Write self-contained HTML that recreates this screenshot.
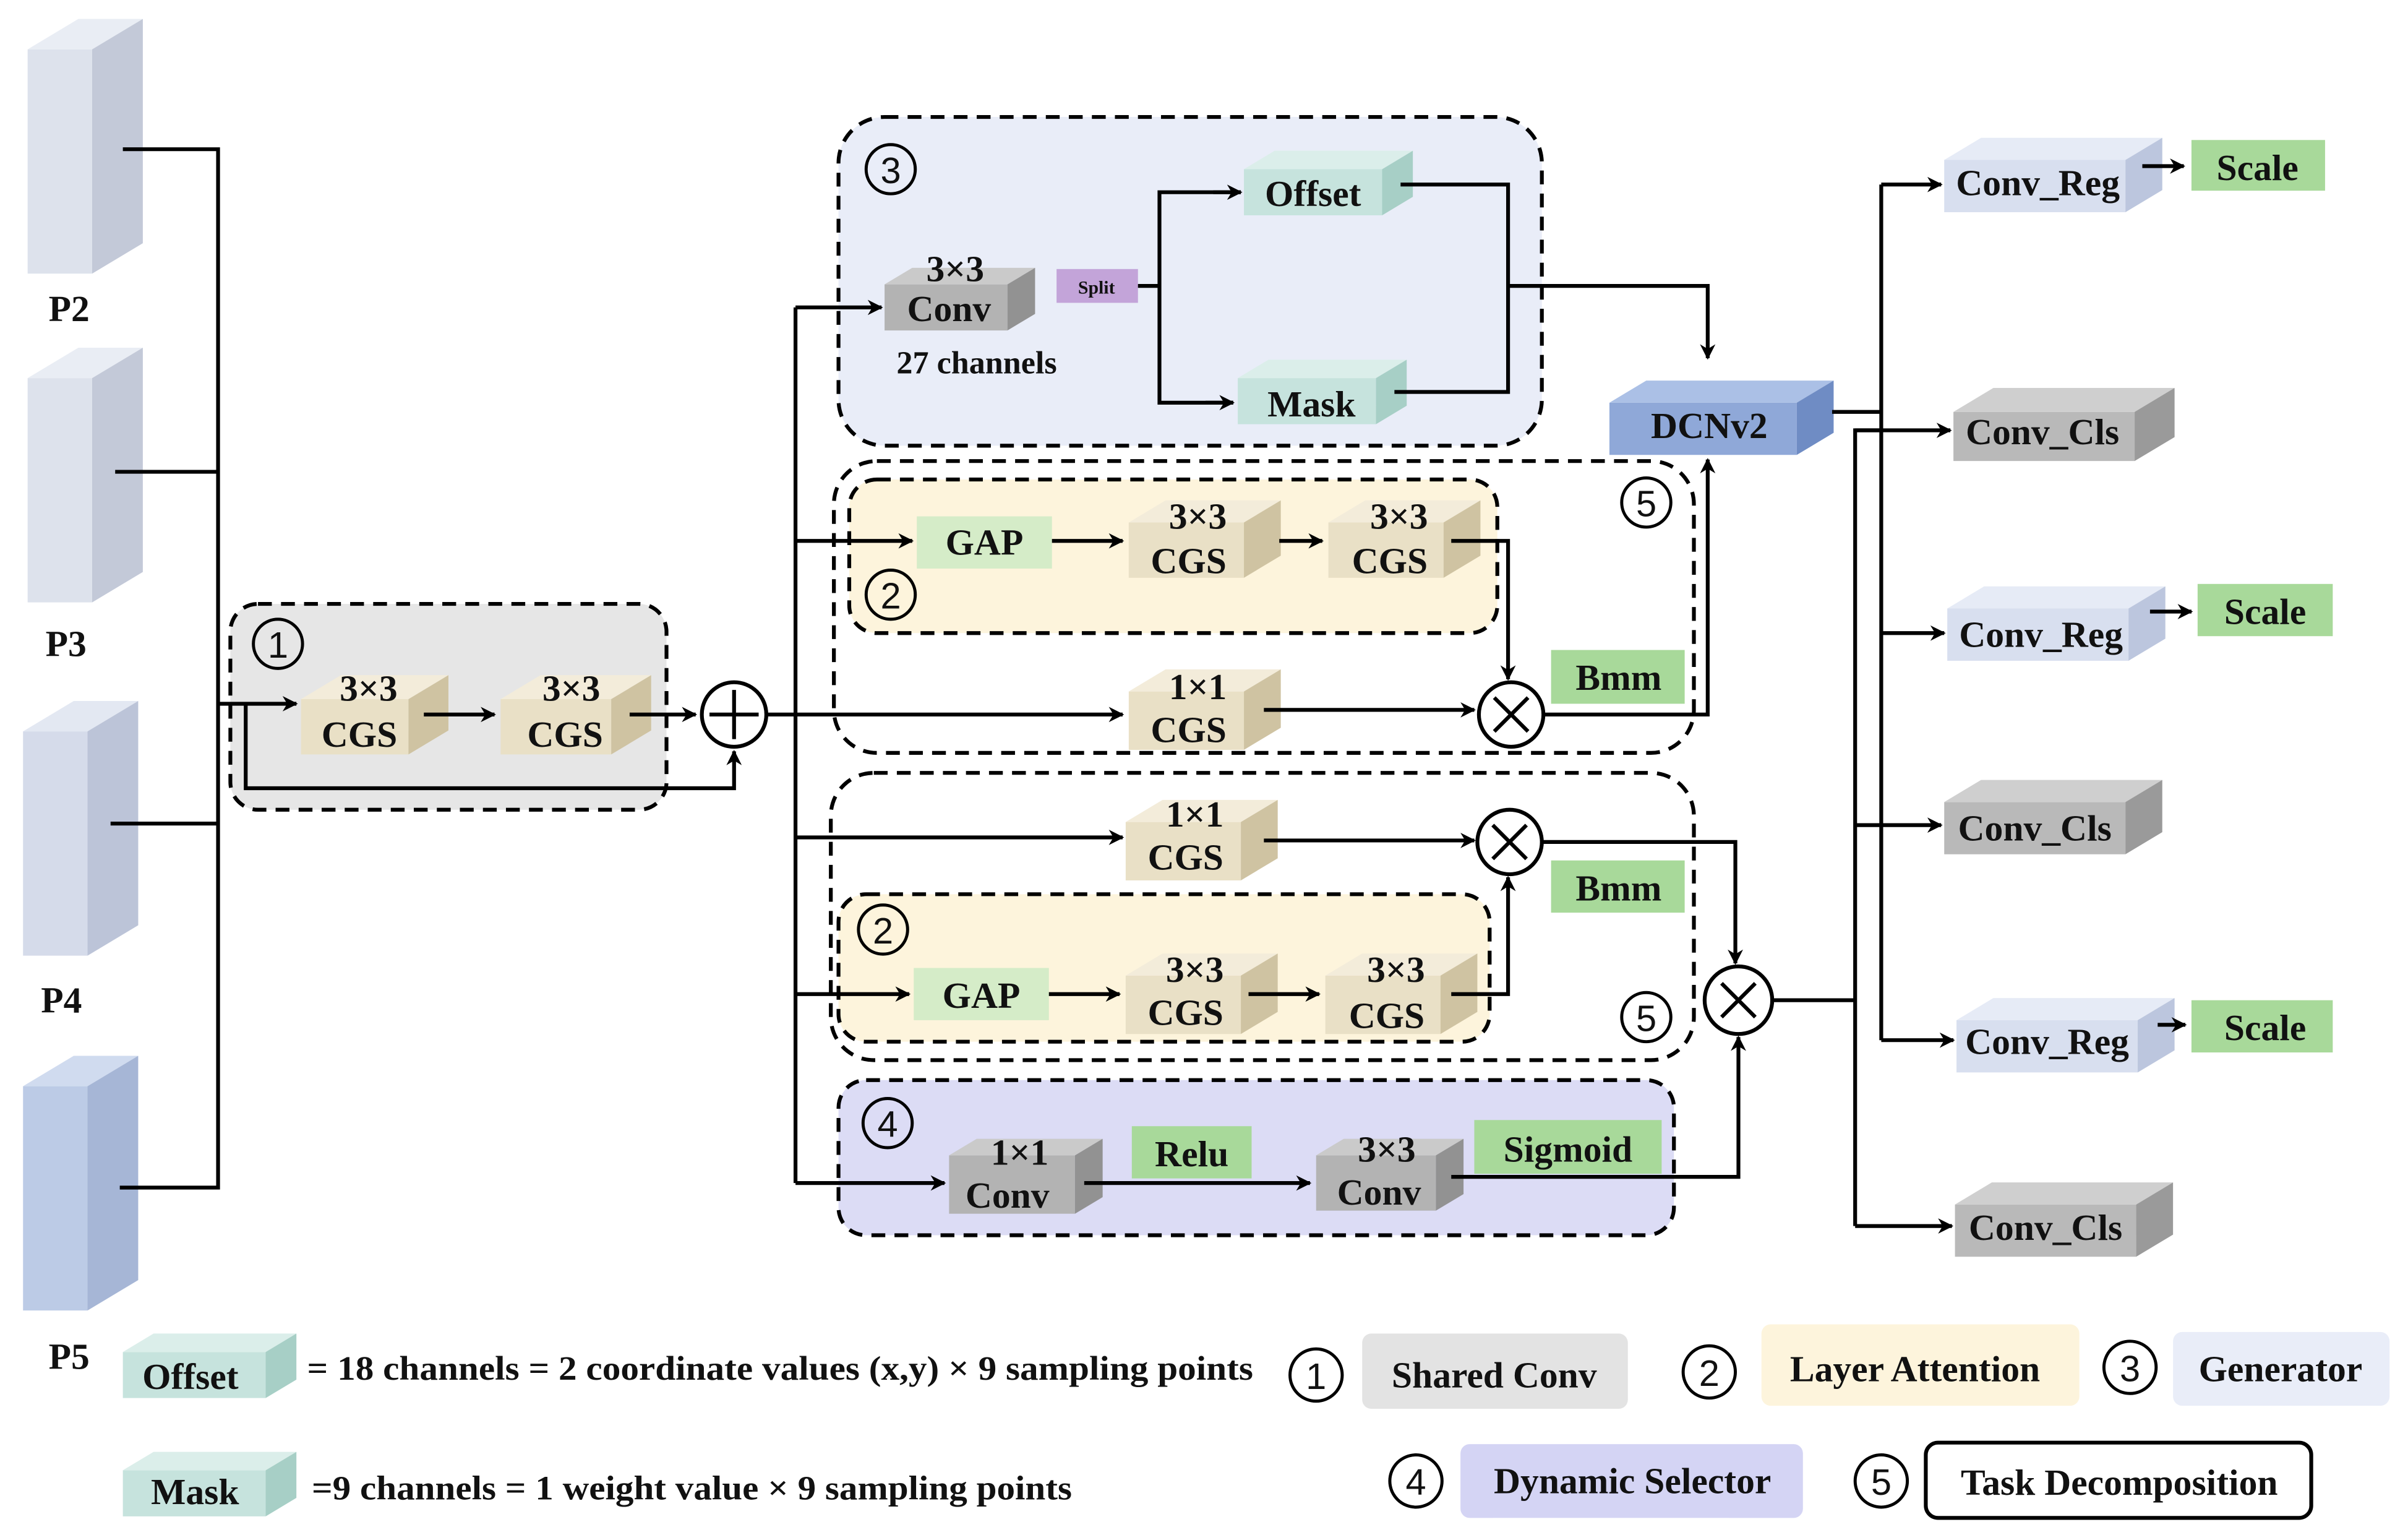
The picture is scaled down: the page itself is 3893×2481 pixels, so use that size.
<!DOCTYPE html>
<html><head><meta charset="utf-8"><style>
html,body{margin:0;padding:0;background:#fff}
svg{display:block}
text{font-family:"Liberation Serif",serif;font-weight:bold;fill:#111}
.n{font-family:"Liberation Sans",sans-serif;font-weight:normal}
</style></head><body>
<svg id="s" width="3893" height="2481" viewBox="0 0 1568 999" xmlns="http://www.w3.org/2000/svg">
<defs>
<marker id="a" markerWidth="10" markerHeight="10" refX="9" refY="5" orient="auto" markerUnits="userSpaceOnUse">
<path d="M0,0 L10,5 L0,10 L3,5 Z" fill="#000"/></marker>
</defs>
<rect x="150" y="393" width="284" height="134" rx="18" fill="#e6e6e6" stroke="#000" stroke-width="2.5" stroke-dasharray="9,6"/>
<rect x="546" y="76" width="458" height="214" rx="30" fill="#e9edf8" stroke="#000" stroke-width="2.5" stroke-dasharray="9,6"/>
<rect x="543" y="300" width="560" height="190" rx="28" fill="none" stroke="#000" stroke-width="2.5" stroke-dasharray="9,6"/>
<rect x="553" y="312" width="422" height="100" rx="18" fill="#fdf4dc" stroke="#000" stroke-width="2.5" stroke-dasharray="9,6"/>
<rect x="541" y="503" width="562" height="187" rx="28" fill="none" stroke="#000" stroke-width="2.5" stroke-dasharray="9,6"/>
<rect x="546" y="582" width="424" height="96" rx="18" fill="#fdf4dc" stroke="#000" stroke-width="2.5" stroke-dasharray="9,6"/>
<rect x="546" y="703" width="544" height="101" rx="18" fill="#dcdcf5" stroke="#000" stroke-width="2.5" stroke-dasharray="9,6"/>
<g id="boxes"></g>
<g stroke="none">
<rect x="597" y="336" width="88" height="34" fill="#d5ecc8"/>
<rect x="595" y="630" width="88" height="34" fill="#d5ecc8"/>
<rect x="1010" y="423" width="87" height="35" fill="#a8d99a"/>
<rect x="1010" y="560" width="87" height="34" fill="#a8d99a"/>
<rect x="737" y="733" width="78" height="34" fill="#a8d99a"/>
<rect x="960" y="729" width="122" height="35" fill="#a8d99a"/>
<rect x="1427" y="91" width="87" height="33" fill="#a8d99a"/>
<rect x="1431" y="380" width="88" height="34" fill="#a8d99a"/>
<rect x="1427" y="651" width="92" height="34" fill="#a8d99a"/>
<rect x="688" y="175" width="53" height="22" fill="#c3a4d9"/>
<rect x="887" y="868" width="173" height="49" rx="6" fill="#e3e3e3"/>
<rect x="1147" y="862" width="207" height="53" rx="6" fill="#fdf4dc"/>
<rect x="1415" y="867" width="141" height="48" rx="6" fill="#e9edf8"/>
<rect x="951" y="940" width="223" height="48" rx="6" fill="#d4d4f4"/>
<rect x="1254" y="939" width="251" height="49" rx="8" fill="#fff" stroke="#000" stroke-width="2.5"/>
</g>
<g fill="none" stroke="#000" stroke-width="2.5">
<polyline points="80,97 142,97 142,773 78,773"/>
<line x1="75" y1="307" x2="142" y2="307"/>
<line x1="72" y1="536" x2="142" y2="536"/>
<line x1="142" y1="458" x2="193" y2="458" marker-end="url(#a)"/>
<polyline points="160,458 160,513 478,513 478,489" marker-end="url(#a)"/>
<line x1="276" y1="465" x2="322" y2="465" marker-end="url(#a)"/>
<line x1="410" y1="465" x2="453" y2="465" marker-end="url(#a)"/>
<line x1="499" y1="465" x2="731" y2="465" marker-end="url(#a)"/>
<line x1="518" y1="200" x2="518" y2="770"/>
<line x1="518" y1="200" x2="574" y2="200" marker-end="url(#a)"/>
<line x1="518" y1="352" x2="594" y2="352" marker-end="url(#a)"/>
<line x1="518" y1="545" x2="731" y2="545" marker-end="url(#a)"/>
<line x1="518" y1="647" x2="592" y2="647" marker-end="url(#a)"/>
<line x1="518" y1="770" x2="615" y2="770" marker-end="url(#a)"/>
<line x1="741" y1="186" x2="755" y2="186"/>
<polyline points="808,125 755,125 755,262 803,262" />
<line x1="790" y1="125" x2="808" y2="125" marker-end="url(#a)"/>
<line x1="785" y1="262" x2="803" y2="262" marker-end="url(#a)"/>
<polyline points="912,120 982,120 982,255 908,255"/>
<polyline points="982,186 1112,186 1112,233" marker-end="url(#a)"/>
<line x1="685" y1="352" x2="731" y2="352" marker-end="url(#a)"/>
<line x1="833" y1="352" x2="861" y2="352" marker-end="url(#a)"/>
<polyline points="945,352 982,352 982,442" marker-end="url(#a)"/>
<line x1="823" y1="462" x2="960" y2="462" marker-end="url(#a)"/>
<polyline points="1005,465 1112,465 1112,299" marker-end="url(#a)"/>
<line x1="823" y1="547" x2="960" y2="547" marker-end="url(#a)"/>
<polyline points="1005,548 1130,548 1130,627" marker-end="url(#a)"/>
<line x1="683" y1="647" x2="729" y2="647" marker-end="url(#a)"/>
<line x1="813" y1="647" x2="859" y2="647" marker-end="url(#a)"/>
<polyline points="945,647 982,647 982,571" marker-end="url(#a)"/>
<line x1="706" y1="770" x2="853" y2="770" marker-end="url(#a)"/>
<polyline points="945,766 1132,766 1132,675" marker-end="url(#a)"/>
<line x1="1154" y1="651" x2="1208" y2="651"/>
<polyline points="1193,268 1225,268"/>
<line x1="1225" y1="120" x2="1225" y2="677"/>
<line x1="1225" y1="120" x2="1264" y2="120" marker-end="url(#a)"/>
<line x1="1225" y1="412" x2="1266" y2="412" marker-end="url(#a)"/>
<line x1="1225" y1="677" x2="1272" y2="677" marker-end="url(#a)"/>
<polyline points="1225,280 1208,280 1208,798"/>
<line x1="1208" y1="280" x2="1270" y2="280" marker-end="url(#a)"/>
<line x1="1208" y1="537" x2="1264" y2="537" marker-end="url(#a)"/>
<line x1="1208" y1="798" x2="1271" y2="798" marker-end="url(#a)"/>
<line x1="1395" y1="108" x2="1422" y2="108" marker-end="url(#a)"/>
<line x1="1400" y1="398" x2="1427" y2="398" marker-end="url(#a)"/>
<line x1="1405" y1="667" x2="1423" y2="667" marker-end="url(#a)"/>
</g>
<g fill="#fff" stroke="#000" stroke-width="2.5">
<circle cx="478" cy="465" r="21"/><circle cx="984" cy="465" r="21"/><circle cx="983" cy="548" r="21"/><circle cx="1132" cy="651" r="22"/>
</g>
<g stroke="#000" stroke-width="2.5">
<line x1="462" y1="465" x2="494" y2="465"/><line x1="478" y1="449" x2="478" y2="481"/>
<line x1="973" y1="454" x2="995" y2="476"/><line x1="995" y1="454" x2="973" y2="476"/>
<line x1="972" y1="537" x2="994" y2="559"/><line x1="994" y1="537" x2="972" y2="559"/>
<line x1="1121" y1="640" x2="1143" y2="662"/><line x1="1143" y1="640" x2="1121" y2="662"/>
</g>
<!-- circled numbers -->
<g fill="none" stroke="#000" stroke-width="2">
<circle cx="181" cy="419" r="16"/><circle cx="580" cy="110" r="16"/><circle cx="580" cy="387" r="16"/><circle cx="1072" cy="327" r="16"/>
<circle cx="575" cy="605" r="16"/><circle cx="1072" cy="662" r="16"/><circle cx="578" cy="731" r="16"/>
<circle cx="857" cy="895" r="17"/><circle cx="1113" cy="893" r="17"/><circle cx="1387" cy="890" r="17"/>
<circle cx="922" cy="964" r="17"/><circle cx="1225" cy="964" r="17"/>
</g>
<g class="n" font-size="24" text-anchor="middle">
<text class="n" x="181" y="428">1</text><text class="n" x="580" y="119">3</text><text class="n" x="580" y="396">2</text><text class="n" x="1072" y="336">5</text>
<text class="n" x="575" y="614">2</text><text class="n" x="1072" y="671">5</text><text class="n" x="578" y="740">4</text>
<text class="n" x="857" y="904">1</text><text class="n" x="1113" y="902">2</text><text class="n" x="1387" y="899">3</text>
<text class="n" x="922" y="973">4</text><text class="n" x="1225" y="973">5</text>
</g>
<g font-size="24" text-anchor="middle">
<text x="45" y="209">P2</text><text x="43" y="427">P3</text><text x="40" y="659">P4</text><text x="45" y="891">P5</text>
<text x="240" y="456">3×3</text><text x="234" y="486">CGS</text>
<text x="372" y="456">3×3</text><text x="368" y="486">CGS</text>
<text x="622" y="183">3×3</text><text x="618" y="209">Conv</text>
<text x="636" y="243" font-size="21">27 channels</text>
<text x="714" y="191" font-size="12">Split</text>
<text x="855" y="134">Offset</text><text x="854" y="271">Mask</text>
<text x="1113" y="285">DCNv2</text>
<text x="641" y="361">GAP</text><text x="639" y="656">GAP</text>
<text x="780" y="344">3×3</text><text x="774" y="373">CGS</text>
<text x="911" y="344">3×3</text><text x="905" y="373">CGS</text>
<text x="780" y="455">1×1</text><text x="774" y="483">CGS</text>
<text x="778" y="538">1×1</text><text x="772" y="566">CGS</text>
<text x="778" y="639">3×3</text><text x="772" y="667">CGS</text>
<text x="909" y="639">3×3</text><text x="903" y="669">CGS</text>
<text x="1054" y="449">Bmm</text><text x="1054" y="586">Bmm</text>
<text x="664" y="758">1×1</text><text x="656" y="786">Conv</text>
<text x="776" y="759">Relu</text>
<text x="903" y="756">3×3</text><text x="898" y="784">Conv</text>
<text x="1021" y="756">Sigmoid</text>
<text x="1327" y="127">Conv_Reg</text><text x="1470" y="117">Scale</text>
<text x="1330" y="289">Conv_Cls</text>
<text x="1329" y="421">Conv_Reg</text><text x="1475" y="406">Scale</text>
<text x="1325" y="547">Conv_Cls</text>
<text x="1333" y="686">Conv_Reg</text><text x="1475" y="677">Scale</text>
<text x="1332" y="807">Conv_Cls</text>
<text x="124" y="904">Offset</text><text x="127" y="979">Mask</text>
<text x="973" y="903">Shared Conv</text>
<text x="1247" y="899">Layer Attention</text>
<text x="1485" y="899">Generator</text>
<text x="1063" y="972">Dynamic Selector</text>
<text x="1380" y="973">Task Decomposition</text>
</g>
<g font-size="22">
<text x="200" y="898" textLength="616" lengthAdjust="spacingAndGlyphs">= 18 channels = 2 coordinate values (x,y) × 9 sampling points</text>
<text x="203" y="976" textLength="495" lengthAdjust="spacingAndGlyphs">=9 channels = 1 weight value × 9 sampling points</text>
</g>
<script>
var g=document.getElementById('boxes'),NS='http://www.w3.org/2000/svg';
function P(pts,f){var p=document.createElementNS(NS,'polygon');p.setAttribute('points',pts.map(function(a){return a.join(',')}).join(' '));p.setAttribute('fill',f);g.appendChild(p);}
function box(x,y,w,h,d,c){var dy=d*0.6;
P([[x,y],[x+w,y],[x+w,y+h],[x,y+h]],c[0]);
P([[x,y],[x+d,y-dy],[x+w+d,y-dy],[x+w,y]],c[1]);
P([[x+w,y],[x+w+d,y-dy],[x+w+d,y+h-dy],[x+w,y+h]],c[2]);}
var Pc=['#dde2ec','#e9edf4','#c3c9d8'],P5=['#bccbe6','#d0dbef','#a6b6d6'];
var T=['#e9e0c6','#f3ecda','#cfc3a2'],G=['#b3b3b3','#cacaca','#929292'],
TE=['#c6e3dd','#dbeeea','#a7cfc6'],B=['#8fa8d8','#abc0e6','#6f8cc4'],
R=['#d8dfef','#e6ebf6','#bcc6de'],C=['#b9b9b9','#cfcfcf','#9a9a9a'];
box(18,32,42,146,33,Pc);box(18,246,42,146,33,Pc);box(15,476,42,146,33,['#d5dbea','#e3e8f2','#bcc4d8']);box(15,707,42,146,33,P5);
box(196,455,70,36,26,T);box(326,455,72,36,26,T);
box(576,185,80,30,18,G);box(810,110,90,30,20,TE);box(806,246,90,30,20,TE);
box(1048,262,122,34,24,B);
box(735,340,75,36,24,T);box(865,340,75,36,24,T);box(735,450,75,38,24,T);box(733,535,75,38,24,T);
box(733,635,75,38,24,T);box(863,635,75,38,24,T);
box(618,752,82,38,18,G);box(857,752,78,36,18,G);
box(1266,104,118,34,24,R);box(1272,268,118,32,26,C);box(1268,396,118,34,24,R);box(1266,522,118,34,24,C);
box(1274,664,118,34,24,R);box(1273,784,118,34,24,C);
box(80,880,93,30,20,TE);box(80,957,93,30,20,TE);
</script>
</svg>
</body></html>
